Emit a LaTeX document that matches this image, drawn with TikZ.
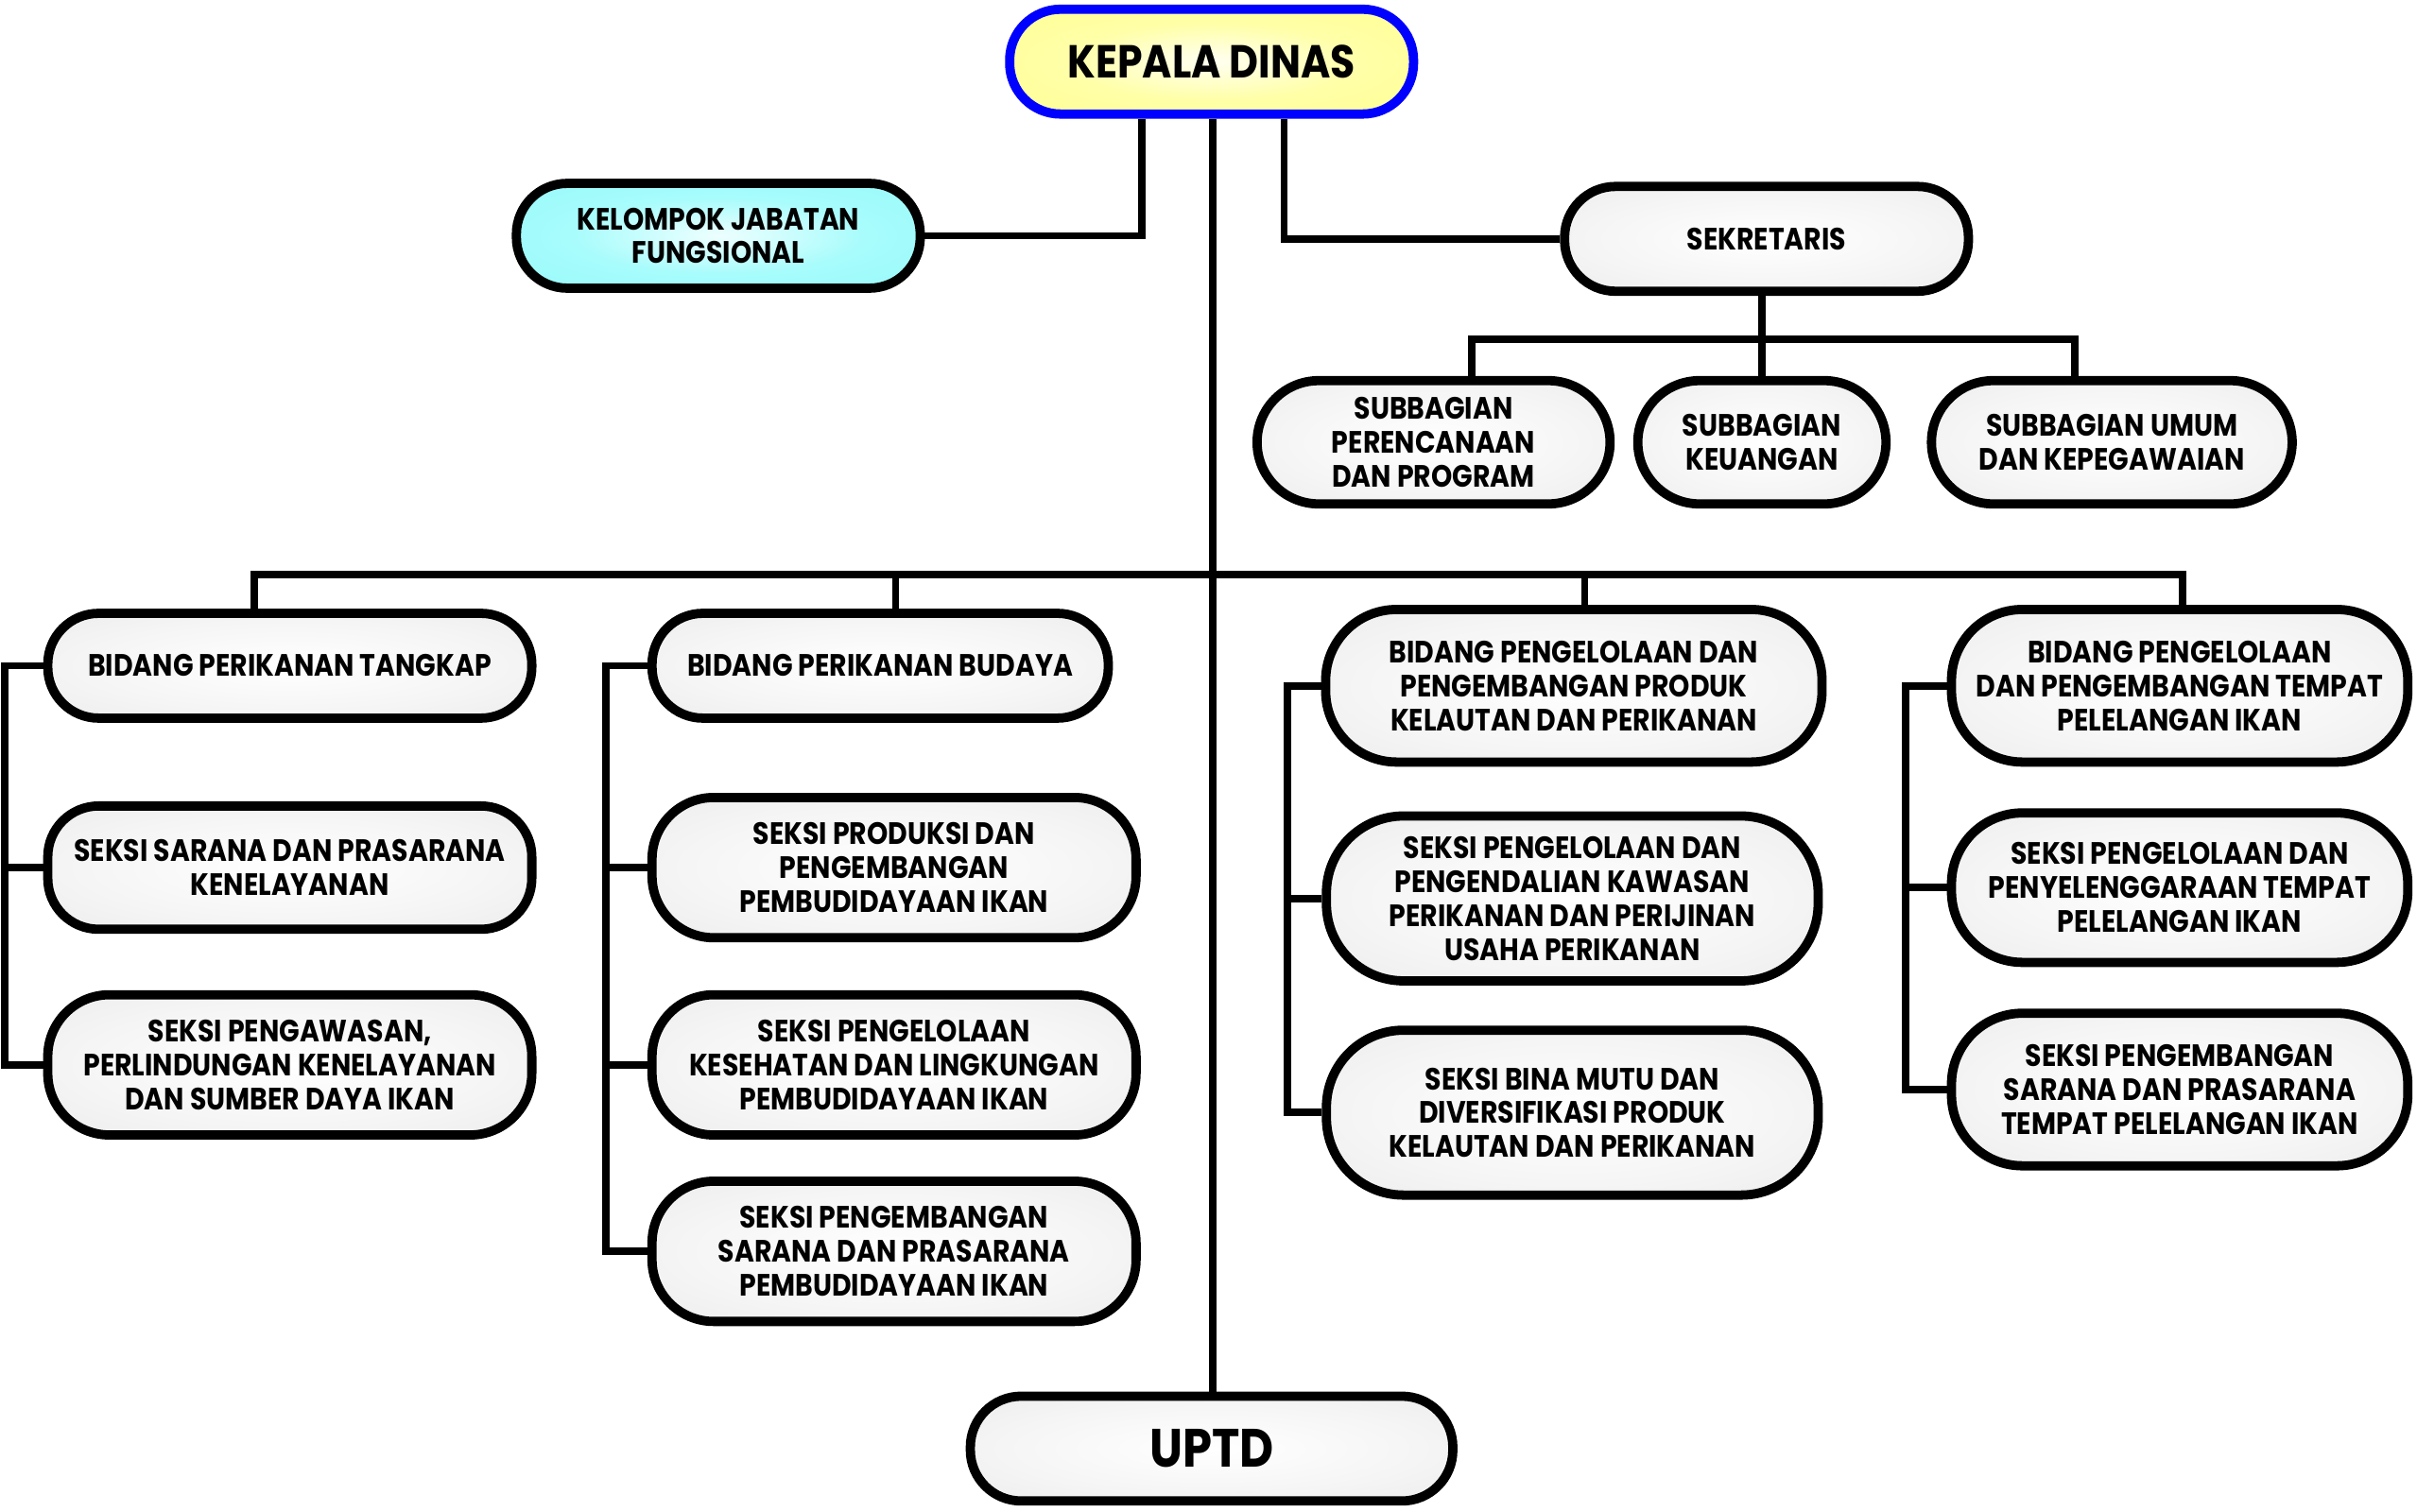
\documentclass[tikz,border=0pt]{standalone}
\usepackage{fontspec}
\setmainfont{Poppins}[FakeStretch=0.87]
\definecolor{gedge}{HTML}{D8D8D8}
\definecolor{yedge}{HTML}{FFFF20}
\definecolor{ymid}{HTML}{FFFFA8}
\definecolor{cedge}{HTML}{38ECF0}
\definecolor{cmid}{HTML}{A8FCFC}
\definecolor{kdblue}{HTML}{0000FF}
\pgfdeclareradialshading{gshade}{\pgfpointorigin}{color(0bp)=(white); color(22bp)=(white!96!black); color(44bp)=(white!91!black); color(50bp)=(gedge)}
\pgfdeclareradialshading{yshade}{\pgfpointorigin}{color(0bp)=(white!85!ymid); color(18bp)=(ymid); color(44bp)=(ymid!80!yedge); color(50bp)=(yedge)}
\pgfdeclareradialshading{cshade}{\pgfpointorigin}{color(0bp)=(white!80!cmid); color(18bp)=(cmid); color(44bp)=(cmid!80!cedge); color(50bp)=(cedge)}
\newcommand\fs{\fontsize{20}{22}\selectfont\bfseries}
\newcommand\fsbig{\fontsize{30}{34}\selectfont\bfseries}
\newcommand\fshuge{\fontsize{35}{38}\selectfont\bfseries}
\tikzset{
  box/.style={draw=black, line width=6pt, rounded corners=33pt, shade, shading=gshade,
    align=center, inner sep=0pt, font=\fs},
  conn/.style={line width=4.8pt},
}
\begin{document}
\begin{tikzpicture}[x=1pt,y=-1pt]
\useasboundingbox (0,0) rectangle (1568,981);
% top
\node[box, draw=kdblue, shading=yshade, font=\fsbig, minimum width=262pt, minimum height=68pt] (kd) at (786,40) {KEPALA DINAS};
\node[box, shading=cshade, minimum width=262pt, minimum height=68pt] (kjf) at (466,153) {KELOMPOK JABATAN\\FUNGSIONAL};
\node[box, minimum width=262pt, minimum height=68pt] (sek) at (1146,155) {SEKRETARIS};
\node[box, rounded corners=40pt, minimum width=229pt, minimum height=80pt] (s1) at (930,287) {SUBBAGIAN\\PERENCANAAN\\DAN PROGRAM};
\node[box, rounded corners=40pt, minimum width=161pt, minimum height=80pt] (s2) at (1143,287) {SUBBAGIAN\\KEUANGAN};
\node[box, rounded corners=40pt, minimum width=234pt, minimum height=80pt] (s3) at (1370,287) {SUBBAGIAN UMUM\\DAN KEPEGAWAIAN};
% column 1
\node[box, minimum width=314pt, minimum height=68pt] (b1) at (188,432) {BIDANG PERIKANAN TANGKAP};
\node[box, minimum width=314pt, minimum height=80pt] (c12) at (188,563) {SEKSI SARANA DAN PRASARANA\\KENELAYANAN};
\node[box, rounded corners=40pt, minimum width=314pt, minimum height=91pt] (c13) at (188,691) {SEKSI PENGAWASAN,\\PERLINDUNGAN KENELAYANAN\\DAN SUMBER DAYA IKAN};
% column 2
\node[box, minimum width=296pt, minimum height=68pt] (b2) at (571,432) {BIDANG PERIKANAN BUDAYA};
\node[box, rounded corners=40pt, minimum width=314pt, minimum height=91pt] (c22) at (580,563) {SEKSI PRODUKSI DAN\\PENGEMBANGAN\\PEMBUDIDAYAAN IKAN};
\node[box, rounded corners=40pt, minimum width=314pt, minimum height=91pt] (c23) at (580,691) {SEKSI PENGELOLAAN\\KESEHATAN DAN LINGKUNGAN\\PEMBUDIDAYAAN IKAN};
\node[box, rounded corners=40pt, minimum width=314pt, minimum height=91pt] (c24) at (580,812) {SEKSI PENGEMBANGAN\\SARANA DAN PRASARANA\\PEMBUDIDAYAAN IKAN};
% column 3
\node[box, rounded corners=46pt, minimum width=322pt, minimum height=99pt] (b3) at (1021,445) {BIDANG PENGELOLAAN DAN\\PENGEMBANGAN PRODUK\\KELAUTAN DAN PERIKANAN};
\node[box, rounded corners=50pt, minimum width=319pt, minimum height=107pt] (c32) at (1020,583) {SEKSI PENGELOLAAN DAN\\PENGENDALIAN KAWASAN\\PERIKANAN DAN PERIJINAN\\USAHA PERIKANAN};
\node[box, rounded corners=50pt, minimum width=319pt, minimum height=107pt] (c33) at (1020,722) {SEKSI BINA MUTU DAN\\DIVERSIFIKASI PRODUK\\KELAUTAN DAN PERIKANAN};
% column 4
\node[box, rounded corners=46pt, minimum width=296pt, minimum height=99pt] (b4) at (1414,445) {BIDANG PENGELOLAAN\\DAN PENGEMBANGAN TEMPAT\\PELELANGAN IKAN};
\node[box, rounded corners=46pt, minimum width=296pt, minimum height=97pt] (c42) at (1414,576) {SEKSI PENGELOLAAN DAN\\PENYELENGGARAAN TEMPAT\\PELELANGAN IKAN};
\node[box, rounded corners=46pt, minimum width=296pt, minimum height=99pt] (c43) at (1414,707) {SEKSI PENGEMBANGAN\\SARANA DAN PRASARANA\\TEMPAT PELELANGAN IKAN};
% bottom
\node[box, font=\fshuge, minimum width=313pt, minimum height=68pt] (uptd) at (786,940) {UPTD};
% connectors
\begin{scope}[conn]
\draw ([xshift=1pt]kd.south) -- ([xshift=1pt]uptd.north);
\draw (kjf.east) -| ([xshift=-45pt]kd.south);
\draw (sek.west) -| ([xshift=47pt]kd.south);
\draw ([xshift=-3pt]sek.south) -- ++(0,28) coordinate (sb);
\draw ([xshift=25pt]s1.north) |- (sb) -| ([xshift=-24pt]s3.north);
\draw (sb) -- (sb |- s2.north);
\coordinate (busL) at (165,373);
\coordinate (busR) at (1416,373);
\draw ([xshift=-23pt]b1.north) |- (busR) -- (busR |- b4.north);
\draw ([xshift=10pt]b2.north) -- ([xshift=10pt]b2.north |- busL);
\draw ([xshift=7pt]b3.north) -- ([xshift=7pt]b3.north |- busL);
% rails
\coordinate (r1) at (3,0);
\draw (b1.west) -- (b1.west -| r1) -- (c13.west -| r1) -- (c13.west);
\draw (c12.west -| r1) -- (c12.west);
\coordinate (r2) at (393,0);
\draw (b2.west) -- (b2.west -| r2) -- (c24.west -| r2) -- (c24.west);
\draw (c22.west -| r2) -- (c22.west);
\draw (c23.west -| r2) -- (c23.west);
\coordinate (r3) at (835,0);
\draw (b3.west) -- (b3.west -| r3) -- (c33.west -| r3) -- (c33.west);
\draw (c32.west -| r3) -- (c32.west);
\coordinate (r4) at (1236,0);
\draw (b4.west) -- (b4.west -| r4) -- (c43.west -| r4) -- (c43.west);
\draw (c42.west -| r4) -- (c42.west);
\end{scope}
\end{tikzpicture}
\end{document}
